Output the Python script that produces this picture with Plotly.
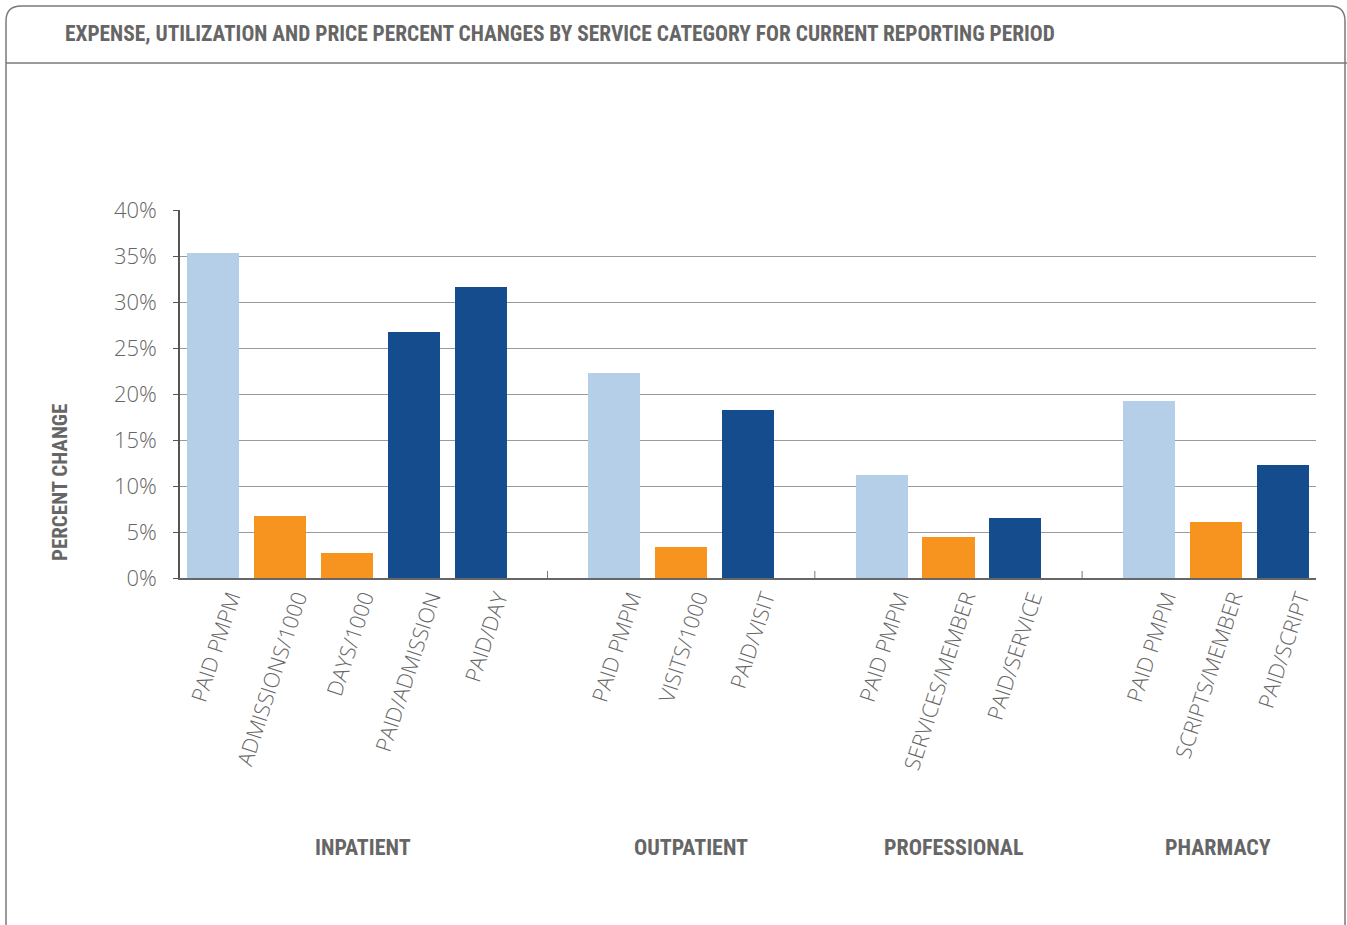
import plotly.graph_objects as go

# Service categories and their measures
groups = ["INPATIENT", "OUTPATIENT", "PROFESSIONAL", "PHARMACY"]
group_measures = [
    ["PAID PMPM", "ADMISSIONS/1000", "DAYS/1000", "PAID/ADMISSION", "PAID/DAY"],
    ["PAID PMPM", "VISITS/1000", "PAID/VISIT"],
    ["PAID PMPM", "SERVICES/MEMBER", "PAID/SERVICE"],
    ["PAID PMPM", "SCRIPTS/MEMBER", "PAID/SCRIPT"],
]
# Measure type: expense (E), utilization (U), price (P)
group_kinds = [
    ["E", "U", "U", "P", "P"],
    ["E", "U", "P"],
    ["E", "U", "P"],
    ["E", "U", "P"],
]
# Percent change values
group_values = [
    [35.3, 6.7, 2.7, 26.7, 31.6],
    [22.3, 3.4, 18.3],
    [11.2, 4.5, 6.5],
    [19.2, 6.1, 12.3],
]
y_ticks = [0, 5, 10, 15, 20, 25, 30, 35, 40]

kind_colors = {"E": "#B5CFE9", "U": "#F7941F", "P": "#154C8D"}

# Layout of bar slots: one empty slot between groups
xs, labels, vals, colors = [], [], [], []
separators, centers = [], []
pos = 0
for gi, (ms, ks, vs) in enumerate(zip(group_measures, group_kinds, group_values)):
    start = pos
    for m, k, v in zip(ms, ks, vs):
        xs.append(pos)
        labels.append(m)
        vals.append(v)
        colors.append(kind_colors[k])
        pos += 1
    centers.append((start + pos - 1) / 2)
    if gi < len(groups) - 1:
        separators.append(pos)
        pos += 1

GRAY = "#666666"
COND = "Roboto Condensed, Liberation Sans Narrow, sans-serif"
LIGHT = "Open Sans, Roboto, Liberation Sans, sans-serif"

fig = go.Figure()
fig.add_trace(go.Bar(
    x=xs, y=vals, marker=dict(color=colors, line=dict(width=0)),
    width=0.78, hoverinfo="skip", showlegend=False,
))

W, H = 1347, 925
L, R, T, B = 180, 31, 210, 347
pw, ph = W - L - R, H - T - B


def px(x):
    return (x - L) / pw


def py(y):
    return (H - B - y) / ph


shapes = []
# outer frame with rounded top corners
r = 15
path = (f"M {px(6)},{py(940)} L {px(6)},{py(6 + r)} Q {px(6)},{py(6)} {px(6 + r)},{py(6)} "
        f"L {px(1345 - r)},{py(6)} Q {px(1345)},{py(6)} {px(1345)},{py(6 + r)} L {px(1345)},{py(940)}")
shapes.append(dict(type="path", path=path, xref="paper", yref="paper",
                   line=dict(color="#7a7a7a", width=1.5)))
# header divider
shapes.append(dict(type="line", xref="paper", yref="paper",
                   x0=px(6), x1=px(1347), y0=py(63), y1=py(63),
                   line=dict(color="#7a7a7a", width=1.5)))
# group separator ticks on the baseline
for s in separators:
    shapes.append(dict(type="line", xref="x", yref="paper", x0=s, x1=s,
                       y0=0, y1=7 / ph, line=dict(color="#777777", width=1)))

annotations = [
    dict(text="EXPENSE, UTILIZATION AND PRICE PERCENT CHANGES BY SERVICE CATEGORY FOR CURRENT REPORTING PERIOD",
         xref="paper", yref="paper", x=px(63), y=py(33), xanchor="left", yanchor="middle",
         showarrow=False, font=dict(family=COND, size=21.4, color=GRAY, weight="bold")),
    dict(text="PERCENT CHANGE", xref="paper", yref="paper", x=px(60), y=py(483),
         xanchor="center", yanchor="middle", textangle=-90, showarrow=False,
         font=dict(family=COND, size=21, color=GRAY, weight="bold")),
]
shifts = [16, 10, 6, 2]
for g, c, sh in zip(groups, centers, shifts):
    annotations.append(dict(text=g, xref="x", yref="paper", x=c, xshift=sh, y=py(847),
                            xanchor="center", yanchor="middle", showarrow=False,
                            font=dict(family=COND, size=22, color=GRAY, weight="bold")))

fig.update_layout(
    width=W, height=H, autosize=False,
    margin=dict(l=L, r=R, t=T, b=B),
    paper_bgcolor="white", plot_bgcolor="white",
    bargap=0, shapes=shapes, annotations=annotations,
    xaxis=dict(range=[-0.5, pos - 0.5], tickvals=xs, ticktext=labels, tickangle=-72,
               showgrid=False, zeroline=False, showline=True, linecolor="#666666", linewidth=1.5,
               ticks="", ticklabelshift=17, ticklabelstandoff=-3,
               tickfont=dict(family=LIGHT, size=21.5, color=GRAY, weight=300)),
    yaxis=dict(range=[0, 40], tickvals=y_ticks, ticktext=[f"{v}%" for v in y_ticks],
               showgrid=True, gridcolor="#9a9a9a", gridwidth=1, zeroline=False,
               showline=True, linecolor="#555555", linewidth=1.5, ticks="outside",
               ticklen=5, tickcolor="#555555", ticklabelstandoff=12,
               tickfont=dict(family=LIGHT, size=22, color=GRAY, weight=300)),
)

fig.write_html("out.html")
